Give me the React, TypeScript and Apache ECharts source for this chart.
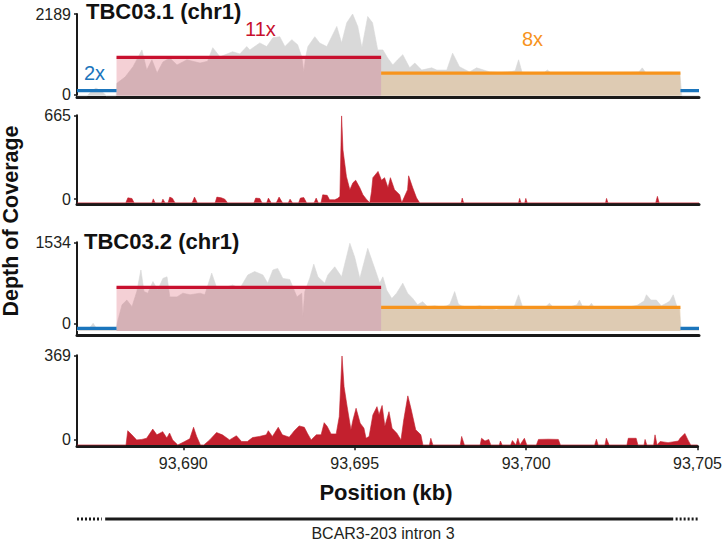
import React, { useEffect, useRef } from "react";
import * as echarts from "echarts";

const X_MIN = 93686.9;
const X_MAX = 93705;
const xTickValues = [93690, 93695, 93700, 93705];

// panel y ranges: [axis min, label max, fill baseline]
const p1Range = [-88, 2189, -38];
const p2Range = [-41, 665, -29];
const p3Range = [-222, 1534, -146];
const p4Range = [-28, 369, -22];

// copy-number segments
const cnBreaks = [93686.9, 93688.05, 93695.75, 93704.46, 93705];
const cnState = ["2x", "11x", "8x", "2x"];
const cn1Levels = [100, 1005, 575, 100];
const cn3Levels = [-95, 682, 303, -95];

const tbc031Coverage: [number, number][] = [
  [93686.9, -38], [93687.2, -38], [93687.3, 60], [93687.45, 170], [93687.62, 80], [93687.75, -38], [93688.04, -38],
  [93688.06, 300], [93688.3, 470], [93688.53, 750], [93688.79, 1210], [93688.93, 660], [93689.08, 940], [93689.23, 580],
  [93689.4, 880], [93689.6, 990], [93689.81, 800], [93690.1, 940], [93690.48, 850], [93690.7, 900], [93690.85, 1270],
  [93691.06, 1020], [93691.43, 1160], [93691.64, 1100], [93691.84, 1300], [93691.93, 1210], [93692.22, 1400],
  [93692.42, 1300], [93692.6, 1540], [93692.8, 1570], [93692.95, 1300], [93693.15, 1490], [93693.32, 1350],
  [93693.44, 1020], [93693.5, 610], [93693.55, 1000], [93693.62, 1300], [93693.82, 1570], [93693.96, 1400],
  [93694.17, 1300], [93694.46, 1850], [93694.6, 1400], [93694.75, 1950], [93694.92, 2189], [93695.07, 1850],
  [93695.19, 1270], [93695.36, 2120], [93695.5, 1950], [93695.65, 1210], [93695.8, 1210], [93695.94, 990],
  [93696.09, 800], [93696.23, 940], [93696.38, 1080], [93696.58, 720], [93696.73, 850], [93696.93, 660],
  [93697.22, 720], [93697.37, 660], [93697.66, 660], [93697.83, 1120], [93698.03, 750], [93698.32, 610],
  [93698.53, 720], [93698.91, 610], [93699.2, 590], [93699.55, 620], [93699.65, 640], [93699.75, 940],
  [93699.85, 600], [93700.3, 590], [93700.5, 600], [93700.59, 660], [93700.68, 590], [93701.5, 600],
  [93702.2, 590], [93703.0, 600], [93703.25, 610], [93703.35, 720], [93703.45, 590], [93704.2, 600],
  [93704.44, 580], [93704.5, -38], [93705, -38],
];

const tbc031Red: [number, number][] = [
  [93686.9, -29], [93688.32, -29], [93688.38, 10], [93688.5, 5], [93688.56, -29],
  [93689.08, -29], [93689.12, 2], [93689.17, -29],
  [93689.36, -29], [93689.4, 0], [93689.46, -29],
  [93689.55, -29], [93689.6, 16], [93689.68, 6], [93689.75, -29],
  [93690.25, -29], [93690.32, 16], [93690.4, -29],
  [93690.92, -29], [93690.97, 16], [93691.1, 10], [93691.2, 0], [93691.28, -29],
  [93692.05, -29], [93692.1, 8], [93692.22, 5], [93692.28, -29],
  [93692.42, -29], [93692.47, 8], [93692.55, -29],
  [93692.7, -29], [93692.78, 16], [93692.88, -29],
  [93693.05, -29], [93693.1, 0], [93693.17, -29],
  [93693.35, -29], [93693.4, 8], [93693.5, 12], [93693.58, -29],
  [93693.8, -29], [93693.86, 8], [93693.92, -29],
  [93694.0, -29], [93694.05, 34], [93694.18, 30], [93694.25, -5], [93694.4, -5], [93694.48, 5],
  [93694.55, 20], [93694.6, 660], [93694.64, 390], [93694.74, 180], [93694.84, 75], [93694.93, 130],
  [93695.01, 150], [93695.13, 90], [93695.22, 35], [93695.32, 0], [93695.42, -29], [93695.47, 60],
  [93695.51, 170], [93695.66, 220], [93695.76, 150], [93695.85, 170], [93695.95, 90], [93696.02, 170],
  [93696.14, 75], [93696.29, 35], [93696.35, -29], [93696.43, 20], [93696.52, 75], [93696.55, 185],
  [93696.67, 90], [93696.78, 10], [93696.87, -29],
  [93698.08, -29], [93698.11, 8], [93698.15, -29],
  [93699.75, -29], [93699.78, 6], [93699.82, -29],
  [93699.93, -29], [93699.96, 6], [93700.0, -29],
  [93702.28, -29], [93702.31, 6], [93702.35, -29],
  [93703.74, -29], [93703.79, 22], [93703.84, -29],
  [93705, -29],
];

const tbc032Coverage: [number, number][] = [
  [93686.9, -130], [93687.2, -120], [93687.3, -60], [93687.37, 0], [93687.45, -80], [93687.55, -110],
  [93687.9, -120], [93688.03, -130], [93688.08, 30], [93688.21, 350], [93688.35, 440], [93688.5, 315],
  [93688.64, 600], [93688.76, 1010], [93688.85, 600], [93688.96, 570], [93689.11, 790], [93689.25, 630],
  [93689.4, 850], [93689.52, 880], [93689.6, 500], [93689.81, 500], [93689.98, 570], [93690.19, 540],
  [93690.48, 570], [93690.62, 540], [93690.82, 950], [93690.97, 660], [93691.14, 660], [93691.43, 725],
  [93691.64, 660], [93691.87, 915], [93692.07, 980], [93692.31, 915], [93692.45, 760], [93692.6, 1010],
  [93692.74, 1040], [93692.89, 850], [93693.09, 830], [93693.3, 500], [93693.44, 570], [93693.47, 125],
  [93693.53, 600], [93693.67, 850], [93693.79, 1120], [93693.91, 880], [93694.11, 760], [93694.2, 915],
  [93694.4, 1070], [93694.6, 880], [93694.84, 1515], [93694.98, 1255], [93695.13, 850], [93695.36, 1420],
  [93695.56, 1045], [93695.71, 760], [93695.8, 880], [93695.91, 630], [93696.06, 470], [93696.2, 570],
  [93696.38, 760], [93696.52, 570], [93696.67, 470], [93696.81, 350], [93696.96, 410], [93697.1, 315],
  [93697.31, 330], [93697.5, 310], [93697.66, 330], [93697.75, 360], [93697.89, 600], [93698.0, 360],
  [93698.09, 330], [93698.3, 300], [93698.62, 330], [93698.8, 300], [93699.11, 250], [93699.3, 300],
  [93699.62, 310], [93699.75, 540], [93699.87, 300], [93700.3, 290], [93700.55, 320], [93700.65, 380],
  [93700.75, 310], [93701.2, 300], [93701.45, 350], [93701.52, 440], [93701.6, 330], [93701.8, 320],
  [93701.87, 380], [93701.95, 300], [93702.48, 315], [93702.9, 300], [93703.2, 340], [93703.4, 420],
  [93703.47, 540], [93703.6, 440], [93703.76, 440], [93703.9, 330], [93704.05, 380], [93704.15, 420],
  [93704.25, 540], [93704.35, 330], [93704.43, 290], [93704.48, -130], [93705, -130],
];

const tbc032Red: [number, number][] = [
  [93686.9, -22], [93688.33, -22], [93688.38, 40], [93688.5, 22], [93688.64, 0], [93688.79, 2], [93688.93, 7],
  [93689.11, 47], [93689.23, 22], [93689.4, 36], [93689.52, 8], [93689.6, 30], [93689.69, 0], [93689.84, -22],
  [93690.04, -7], [93690.19, 5], [93690.3, 55], [93690.39, 15], [93690.5, -22], [93690.6, -22], [93690.77, 0],
  [93690.97, 32], [93691.14, 22], [93691.35, 0], [93691.55, 18], [93691.7, -7], [93691.87, -7], [93692.02, 10],
  [93692.22, 15], [93692.42, 22], [93692.48, 40], [93692.6, 15], [93692.77, 55], [93692.89, 22], [93693.09, 12],
  [93693.24, 40], [93693.38, 61], [93693.53, 55], [93693.62, 29], [93693.73, 0], [93693.88, 22], [93694.02, 22],
  [93694.11, 75], [93694.2, 58], [93694.31, 26], [93694.46, 26], [93694.55, 102], [93694.63, 366],
  [93694.69, 232], [93694.78, 145], [93694.89, 44], [93694.95, 87], [93695.04, 138], [93695.16, 73],
  [93695.27, 51], [93695.33, 7], [93695.42, 15], [93695.53, 109], [93695.65, 145], [93695.71, 110],
  [93695.8, 150], [93695.88, 60], [93696.0, 123], [93696.09, 51], [93696.23, 29], [93696.35, 0],
  [93696.43, 87], [93696.55, 192], [93696.64, 138], [93696.78, 44], [93696.93, 22], [93696.99, -22],
  [93697.18, -22], [93697.22, 7], [93697.28, -22], [93698.08, -22], [93698.12, 15], [93698.2, -22],
  [93698.66, -22], [93698.7, 7], [93698.8, -5], [93698.91, 2], [93698.97, -22], [93699.22, -22],
  [93699.25, -5], [93699.3, -22], [93699.55, -22], [93699.6, -3], [93699.7, -22], [93699.76, 7],
  [93699.82, -22], [93699.95, 7], [93700.02, -22], [93700.3, -22], [93700.36, 2], [93700.65, 3],
  [93700.94, 2], [93701.0, -22], [93702.0, -22], [93702.05, 3], [93702.1, -22], [93702.3, -22],
  [93702.34, 7], [93702.42, -22], [93702.94, -22], [93702.98, 7], [93703.21, 7], [93703.26, -22],
  [93703.44, -22], [93703.47, 2], [93703.52, -22], [93703.72, -22], [93703.76, 22], [93703.82, -22],
  [93703.91, -7], [93704.14, -12], [93704.44, -5], [93704.49, 7], [93704.63, 28], [93704.72, 0],
  [93704.8, -22], [93705, -22],
];

// gene model track (intron 3 of BCAR3-203): [start, end, style]
const geneParts: [number, number, string][] = [
  [93686.9, 93687.62, "dotted"],
  [93687.72, 93704.25, "solid"],
  [93704.32, 93705.0, "dotted"],
];

const FONT = '"Liberation Sans", Arial, Helvetica, sans-serif';
const BLACK = "#1a1a1a";
const GRAY = "#d9d9d9";
const RED_COV = "#c3202e";
const stateColor: Record<string, string> = { "2x": "#1b75bc", "11x": "#c8102e", "8x": "#f7941d" };
const stateFill: Record<string, string | null> = {
  "2x": null,
  "11x": "rgba(200,20,45,0.2)",
  "8x": "rgba(247,148,29,0.2)",
};

const grids = [
  { left: 77, right: 26, top: 14, height: 83.5 },
  { left: 77, right: 26, top: 115.3, height: 89 },
  { left: 77, right: 26, top: 242.3, height: 92.7 },
  { left: 77, right: 26, top: 355.3, height: 91 },
  { left: 77, right: 26, top: 509, height: 20 },
];

function yAxisFor(i: number, range: number[]) {
  const max = range[1];
  return {
    gridIndex: i,
    type: "value",
    min: range[0],
    max,
    axisLine: { show: true, lineStyle: { color: BLACK, width: 2 } },
    axisTick: { show: true, customValues: [0, max], length: 3, lineStyle: { color: BLACK, width: 1.5 } },
    axisLabel: {
      show: true,
      customValues: [0, max],
      fontSize: 16,
      fontFamily: FONT,
      color: "#231f20",
      margin: 6,
      formatter: (v: number) => String(v),
    },
    splitLine: { show: false },
  };
}

function xAxisFor(i: number, labelled: boolean) {
  return {
    gridIndex: i,
    type: "value",
    min: X_MIN,
    max: X_MAX,
    axisLine: { show: true, onZero: false, lineStyle: { color: BLACK, width: 3 } },
    axisTick: labelled
      ? { show: true, customValues: xTickValues, length: 4, lineStyle: { color: BLACK, width: 1.5 } }
      : { show: false },
    axisLabel: labelled
      ? {
          show: true,
          customValues: xTickValues,
          fontSize: 16,
          fontFamily: FONT,
          color: "#231f20",
          margin: 9,
          formatter: (v: number) => v.toLocaleString("en-US"),
        }
      : { show: false },
    splitLine: { show: false },
  };
}

function areaSeries(i: number, data: [number, number][], color: string, origin: number) {
  return {
    type: "line",
    xAxisIndex: i,
    yAxisIndex: i,
    data,
    showSymbol: false,
    symbol: "none",
    lineStyle: { width: 0.6, color },
    areaStyle: { color, opacity: 1, origin },
    z: 2,
    silent: true,
  };
}

function cnSeries(i: number, levels: number[], origin: number) {
  const out: any[] = [];
  levels.forEach((lvl, k) => {
    const st = cnState[k];
    const fill = stateFill[st];
    out.push({
      type: "line",
      xAxisIndex: i,
      yAxisIndex: i,
      data: [
        [cnBreaks[k], lvl],
        [cnBreaks[k + 1], lvl],
      ],
      showSymbol: false,
      symbol: "none",
      lineStyle: { width: 3.2, color: stateColor[st], cap: "butt" },
      areaStyle: fill ? { color: fill, opacity: 1, origin } : undefined,
      z: 3,
      silent: true,
    });
  });
  return out;
}

export default function App() {
  const ref = useRef<HTMLDivElement>(null);
  useEffect(() => {
    if (!ref.current) return;
    const chart = echarts.init(ref.current, null, { renderer: "svg" });
    const series: any[] = [
      areaSeries(0, tbc031Coverage, GRAY, p1Range[2]),
      ...cnSeries(0, cn1Levels, p1Range[2]),
      areaSeries(1, tbc031Red, RED_COV, p2Range[2]),
      areaSeries(2, tbc032Coverage, GRAY, p3Range[2]),
      ...cnSeries(2, cn3Levels, p3Range[2]),
      areaSeries(3, tbc032Red, RED_COV, p4Range[2]),
      ...geneParts.map((g) => ({
        type: "line",
        xAxisIndex: 4,
        yAxisIndex: 4,
        data: [
          [g[0], 0],
          [g[1], 0],
        ],
        showSymbol: false,
        symbol: "none",
        lineStyle: { width: 3, color: BLACK, type: g[2] === "dotted" ? [2, 2] : "solid" },
        silent: true,
      })),
    ];
    chart.setOption({
      animation: false,
      backgroundColor: "#ffffff",
      grid: grids,
      xAxis: [
        xAxisFor(0, false),
        xAxisFor(1, false),
        xAxisFor(2, false),
        xAxisFor(3, true),
        { gridIndex: 4, type: "value", min: X_MIN, max: X_MAX, show: false },
      ],
      yAxis: [
        yAxisFor(0, p1Range),
        yAxisFor(1, p2Range),
        yAxisFor(2, p3Range),
        yAxisFor(3, p4Range),
        { gridIndex: 4, type: "value", min: -1, max: 1, show: false },
      ],
      series,
      graphic: [
        {
          type: "text",
          left: 86,
          top: 0,
          style: { text: "TBC03.1 (chr1)", fontSize: 22, fontWeight: "bold", fontFamily: FONT, fill: "#111" },
        },
        {
          type: "text",
          left: 84,
          top: 230,
          style: { text: "TBC03.2 (chr1)", fontSize: 22, fontWeight: "bold", fontFamily: FONT, fill: "#111" },
        },
        {
          type: "text",
          x: 11,
          y: 221,
          rotation: Math.PI / 2,
          style: {
            text: "Depth of Coverage",
            fontSize: 21.5,
            fontWeight: "bold",
            fontFamily: FONT,
            fill: "#111",
            align: "center",
            verticalAlign: "middle",
          },
        },
        {
          type: "text",
          x: 386,
          y: 492,
          style: {
            text: "Position (kb)",
            fontSize: 22,
            fontWeight: "bold",
            fontFamily: FONT,
            fill: "#111",
            align: "center",
            verticalAlign: "middle",
          },
        },
        {
          type: "text",
          x: 383,
          y: 533,
          style: {
            text: "BCAR3-203 intron 3",
            fontSize: 16,
            fontFamily: FONT,
            fill: "#231f20",
            align: "center",
            verticalAlign: "middle",
          },
        },
        {
          type: "text",
          x: 84,
          y: 72.5,
          style: { text: "2x", fontSize: 20, fontFamily: FONT, fill: stateColor["2x"], verticalAlign: "middle" },
        },
        {
          type: "text",
          x: 245,
          y: 28.5,
          style: { text: "11x", fontSize: 20, fontFamily: FONT, fill: stateColor["11x"], verticalAlign: "middle" },
        },
        {
          type: "text",
          x: 522,
          y: 38.5,
          style: { text: "8x", fontSize: 20, fontFamily: FONT, fill: stateColor["8x"], verticalAlign: "middle" },
        },
      ],
    });
    return () => chart.dispose();
  }, []);
  return (
    <div
      ref={ref}
      style={{ position: "absolute", left: 0, top: 0, width: 725, height: 543, background: "#fff" }}
    />
  );
}
